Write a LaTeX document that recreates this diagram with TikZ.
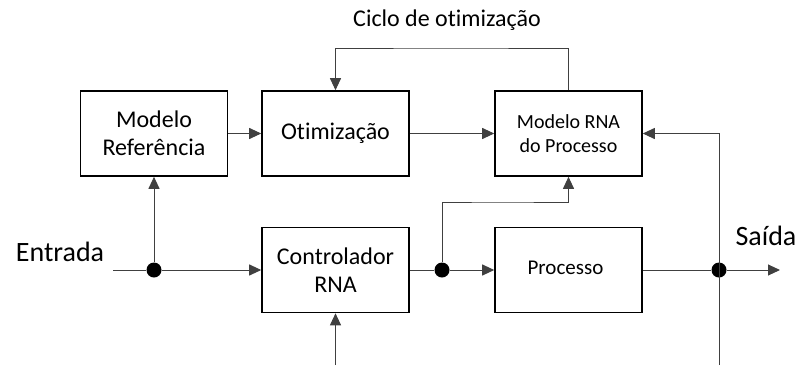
\documentclass[tikz,border=0pt]{standalone}
\usepackage{fontspec}
\setmainfont{Carlito}[Ligatures=NoCommon, RawFeature=-liga]
\usetikzlibrary{arrows.meta, positioning}

\begin{document}
\begin{tikzpicture}[
  x=1pt, y=-1pt,
  sig/.style={-{Triangle[length=12pt, width=11pt]}, line width=1pt, draw=black!75},
  wire/.style={line width=1pt, draw=black!75},
  box/.style={rectangle, draw=black, line width=1.6pt, minimum width=147pt, minimum height=85pt, font=\fontsize{24}{28}\selectfont, align=center},
  dot/.style={circle, fill=black, inner sep=0pt, minimum size=15pt}
]
\useasboundingbox (0,0) rectangle (801,365);

\node[box] (modref) at (154,133.5) {Modelo\\Referência};
\node[box] (otim) at (335.5,133.5) {Otimização};
\node[box, font=\fontsize{20}{24}\selectfont] (modrna) at (568.5,133.5) {Modelo RNA\\do Processo};
\node[box] (ctrl) at (335.5,270) {Controlador\\RNA};
\node[box, font=\fontsize{21}{25}\selectfont] (proc) at (568.5,270) {\raisebox{4pt}{Processo}\hspace{6pt}};

\node[font=\fontsize{28}{32}\selectfont] (entrada) at (60,252) {Entrada};
\node[font=\fontsize{28}{32}\selectfont] (saida) at (766,236) {Saída};
\node[font=\fontsize{24}{28}\selectfont] (ciclo) at (447,20) {Ciclo de otimização};

\node[dot] (d1) at (154,270) {};
\node[dot] (d2) at (442,270) {};
\node[dot] (d3) at (719,270) {};
\coordinate (inp) at (113,270);
\coordinate (out) at (780,270);
\coordinate (cin) at (335.5,365);
\coordinate (yin) at (719,365);
\coordinate (top) at (450,48);
\coordinate (mid) at (500,202);

% Arrows
\draw[wire] (inp) -- (d1);
\draw[sig] (d1) -- (ctrl);
\draw[sig] (d1) -- (modref);
\draw[sig] (modref) -- (otim);
\draw[sig] (otim) -- (modrna);
\draw[sig] (cin) -- (ctrl);
\draw[wire] (ctrl) -- (d2);
\draw[sig] (d2) -- (proc);
\draw[sig] (d2) |- (mid) -| (modrna);
\draw[wire] (proc) -- (d3);
\draw[sig] (d3) -- (out);
\draw[sig] (yin) |- (modrna);
\draw[sig] (modrna) |- (top) -| (otim);

\end{tikzpicture}
\end{document}
